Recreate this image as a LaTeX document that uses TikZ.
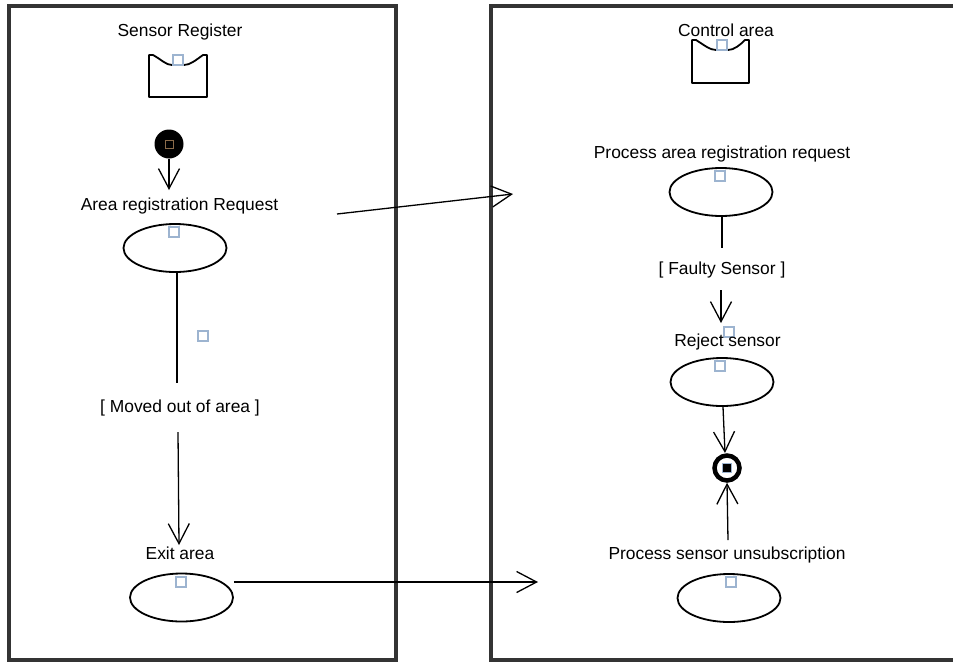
\documentclass[tikz,border=0pt]{standalone}
\usepackage{fontspec}
\setmainfont{Liberation Sans}
\usetikzlibrary{arrows.meta,shapes.geometric}
\definecolor{frame}{HTML}{343434}
\definecolor{anchorblue}{HTML}{9DB4D0}
\definecolor{anchorbrown}{HTML}{8B6B4A}
\tikzset{
  lbl/.style={inner sep=0pt, font=\fontsize{17.4}{20}\selectfont, text=black},
  action/.style={draw=black, line width=1.8pt, ellipse, minimum width=103pt, minimum height=48pt, inner sep=0pt},
  flow/.style={draw=black, line width=1.3pt, -{Straight Barb[length=20pt,width=21pt,line width=1.3pt]}},
  plainflow/.style={draw=black, line width=1.3pt},
  handle/.style={draw=anchorblue, line width=1.3pt, fill=white, minimum size=10pt, inner sep=0pt, rectangle},
  lane/.style={draw=frame, line width=4pt},
  partition/.style={draw=black, line width=1.8pt, line join=round}
}
\begin{document}
\begin{tikzpicture}[x=1pt,y=-1pt]
\useasboundingbox (0,0) rectangle (953,662);
\fill[white] (0,0) rectangle (953,662);

% swimlanes
\draw[lane] (9,6) rectangle (396,660);
\draw[lane] (490.5,6) rectangle (960,660);

% ---------- Sensor Register lane ----------
\node[lbl] (tSR) at (180,32) {Sensor Register};
\draw[partition] (149,55) -- (153,55) .. controls (162,60) and (166,65) .. (172,65)
  -- (184,65) .. controls (190,65) and (196,60) .. (203,55) -- (207,55)
  -- (207,97) -- (149,97) -- cycle;
\draw[anchorbrown, line width=1.5pt] (172,65) -- (184,65);
\node[handle] (hSR) at (178,60) {};

% initial node
\node[circle, fill=black, minimum size=29pt, inner sep=0pt] (init) at (169,144) {};
\node[draw=anchorbrown, line width=1pt, minimum size=8pt, inner sep=0pt] at (init) {};
\coordinate (initTip) at (169,190);
\draw[flow] (init.south) -- (initTip);

\node[lbl] (tARR) at (179.5,206) {Area registration Request};
\node[action] (ARR) at (175,248) {};
\node[handle] at (174,232) {};

% guarded flow to exit
\node[lbl] (tMoved) at (180,408) {[ Moved out of area ]};
\coordinate (m1) at (177,383);
\coordinate (m2) at (178,432);
\coordinate (exitTip) at (179,545);
\draw[plainflow] (ARR.south -| m1) -- (m1);
\draw[flow] (m2) -- (exitTip);
\node[handle] at (203,336) {};

\node[lbl] (tExit) at (180,553) {Exit area};
\node[action] (EX) at (181.5,597.5) {};
\node[handle] at (181,582) {};

% ---------- Control area lane ----------
\node[lbl] (tCA) at (726,30) {Control area};
\draw[partition] (692,40) -- (696,40) .. controls (704,45) and (710,50) .. (716,50)
  -- (728,50) .. controls (734,50) and (740,45) .. (745,40) -- (749,40)
  -- (749,83) -- (692,83) -- cycle;
\draw[anchorbrown, line width=1.5pt] (716,50) -- (728,50);
\node[handle] (hCA) at (722,45) {};

\node[lbl] (tPARR) at (722,154) {Process area registration request};
\node[action] (PARR) at (721,192) {};
\node[handle] at (720,176) {};

\node[lbl] (tFaulty) at (722,270) {[ Faulty Sensor ]};
\coordinate (f1) at (722,248);
\coordinate (f2) at (721,290);
\coordinate (rejTip) at (721,323);
\draw[plainflow] (PARR.south -| f1) -- (f1);
\draw[flow] (f2) -- (rejTip);
\node[handle] at (729,332) {};

\node[lbl] (tRej) at (727.5,342) {Reject sensor};
\node[action] (REJ) at (722,382) {};
\node[handle] at (720,366) {};

% final node
\node[circle, draw=black, line width=4.5pt, fill=white, minimum size=25pt, inner sep=0pt] (final) at (727,468) {};
\node[fill=black, draw=anchorblue, line width=0.8pt, minimum size=9pt, inner sep=0pt] at (final) {};
\draw[flow] (REJ.south -| 723,0) -- (725,453);
\coordinate (unsubStart) at (728,540);
\draw[flow] (unsubStart) -- (final.south);

\node[lbl] (tPSU) at (727,555) {Process sensor unsubscription};
\node[action] (PSU) at (729,598) {};
\node[handle] at (731,582) {};

% cross-lane flows
\coordinate (reqStart) at (337,214);
\coordinate (reqTip) at (513,194);
\draw[flow] (reqStart) -- (reqTip);
\draw[flow] (EX.east |- 0,582) -- (538,582);
\end{tikzpicture}
\end{document}
